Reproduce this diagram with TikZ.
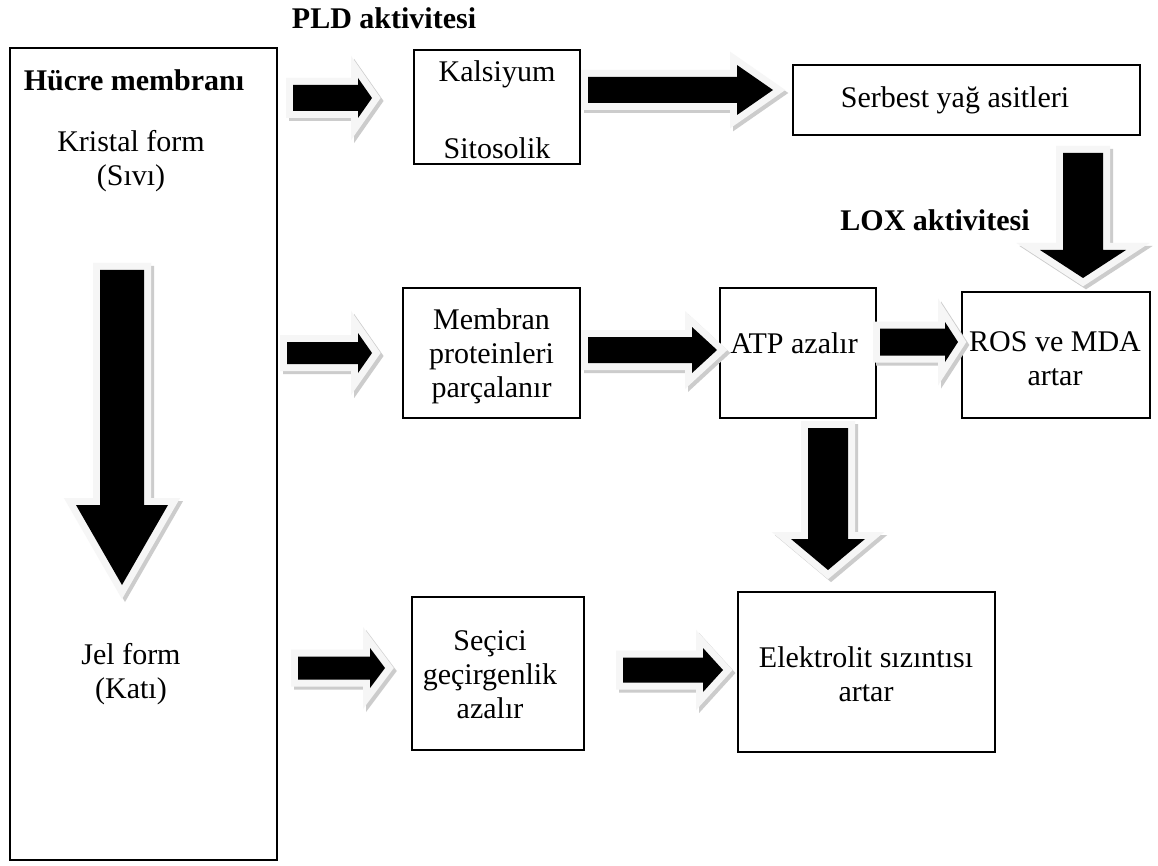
\documentclass[tikz,border=0pt]{standalone}
\usepackage{fontspec}
\setmainfont{Liberation Serif}

% Outline of a block arrow pointing along +x, tail at the origin:
% #1 length, #2 shaft half width, #3 head half width, #4 head length
\newcommand\arrowpoly[4]{(0,-#2) -- (#1-#4,-#2) -- (#1-#4,-#3) -- (#1,0)
  -- (#1-#4,#3) -- (#1-#4,#2) -- (0,#2) -- cycle}

% Block arrow with a pale rim and a soft grey shadow:
% #1 angle, #2 tail x, #3 tail y, #4..#7 as for \arrowpoly
\newcommand\blockarrow[7]{%
  \path[arrowshade, shift={(#2+3,#3+3)}, rotate=#1] \arrowpoly{#4}{#5}{#6}{#7};
  \path[arrowrim,   shift={(#2,#3)},     rotate=#1] \arrowpoly{#4}{#5}{#6}{#7};
  \path[arrowbody,  shift={(#2,#3)},     rotate=#1] \arrowpoly{#4}{#5}{#6}{#7};}

\begin{document}
\begin{tikzpicture}[x=1pt, y=-1pt,
  box/.style={draw=black, line width=1.3pt, fill=white, inner sep=0pt},
  txt/.style={font=\fontsize{30}{34}\selectfont, align=center, inner sep=0pt},
  btxt/.style={font=\fontsize{30}{34}\selectfont\bfseries, align=center, inner sep=0pt},
  arrowshade/.style={draw=gray!40, fill=gray!40, line width=14pt, line join=miter},
  arrowrim/.style={draw=gray!7, fill=gray!7, line width=14pt, line join=miter},
  arrowbody/.style={fill=black}]

\useasboundingbox (0,0) rectangle (1158,866);
\fill[white] (0,0) rectangle (1158,866);

% boxes
\node[box, minimum width=267pt, minimum height=812pt] (cell) at (143.5,454) {};
\node[box, minimum width=166pt, minimum height=114pt] (ca)   at (497,107) {};
\node[box, minimum width=347pt, minimum height=70pt]  (ffa)  at (966.5,100) {};
\node[box, minimum width=177pt, minimum height=130pt] (prot) at (491.5,353) {};
\node[box, minimum width=156pt, minimum height=130pt] (atp)  at (798,353) {};
\node[box, minimum width=188pt, minimum height=126pt] (ros)  at (1056,355) {};
\node[box, minimum width=172pt, minimum height=153pt] (sel)  at (498,673.5) {};
\node[box, minimum width=257pt, minimum height=160pt] (elec) at (866.5,672) {};

% texts
\node[btxt] (pld)  at (384,18)  {PLD aktivitesi};
\node[btxt] (lox)  at (935,220) {LOX aktivitesi};
\node[btxt] (hm)   at (134,80)  {Hücre membranı};
\node[txt]  (kf)   at (131,161) {Kristal form\\(Sıvı)};
\node[txt]  (jf)   at (131,674) {Jel form\\(Katı)};
\node[txt]  (kal)  at (497,74)  {Kalsiyum};
\node[txt]  (sit)  at (497,148) {Sitosolik};
\node[txt]  (ffat) at (955,100) {Serbest yağ asitleri};
\node[txt]  (prott) at (491.5,356) {Membran\\proteinleri\\parçalanır};
\node[txt]  (atpt) at (794,343) {ATP azalır};
\node[txt]  (rost) at (1055,359) {ROS ve MDA\\artar};
\node[txt]  (selt) at (490,675) {Seçici\\geçirgenlik\\azalır};
\node[txt]  (elect) at (866,674) {Elektrolit sızıntısı\\artar};

% block arrows
\blockarrow{-90}{122}{270}{315}{22}{46}{80}
\blockarrow{0}{293}{98}{79}{13}{20}{14}
\blockarrow{0}{588}{90}{185}{13}{25}{36}
\blockarrow{-90}{1083}{153}{125}{20}{43}{28}
\blockarrow{0}{287}{353}{85}{11}{20}{14}
\blockarrow{0}{588}{350}{129}{13}{23}{25}
\blockarrow{0}{880}{342}{78}{13.5}{20}{13}
\blockarrow{-90}{828}{428}{142}{20}{37}{31}
\blockarrow{0}{298}{668}{87}{11.5}{20}{15}
\blockarrow{0}{623}{670}{100}{12.5}{22}{20}

\end{tikzpicture}
\end{document}
